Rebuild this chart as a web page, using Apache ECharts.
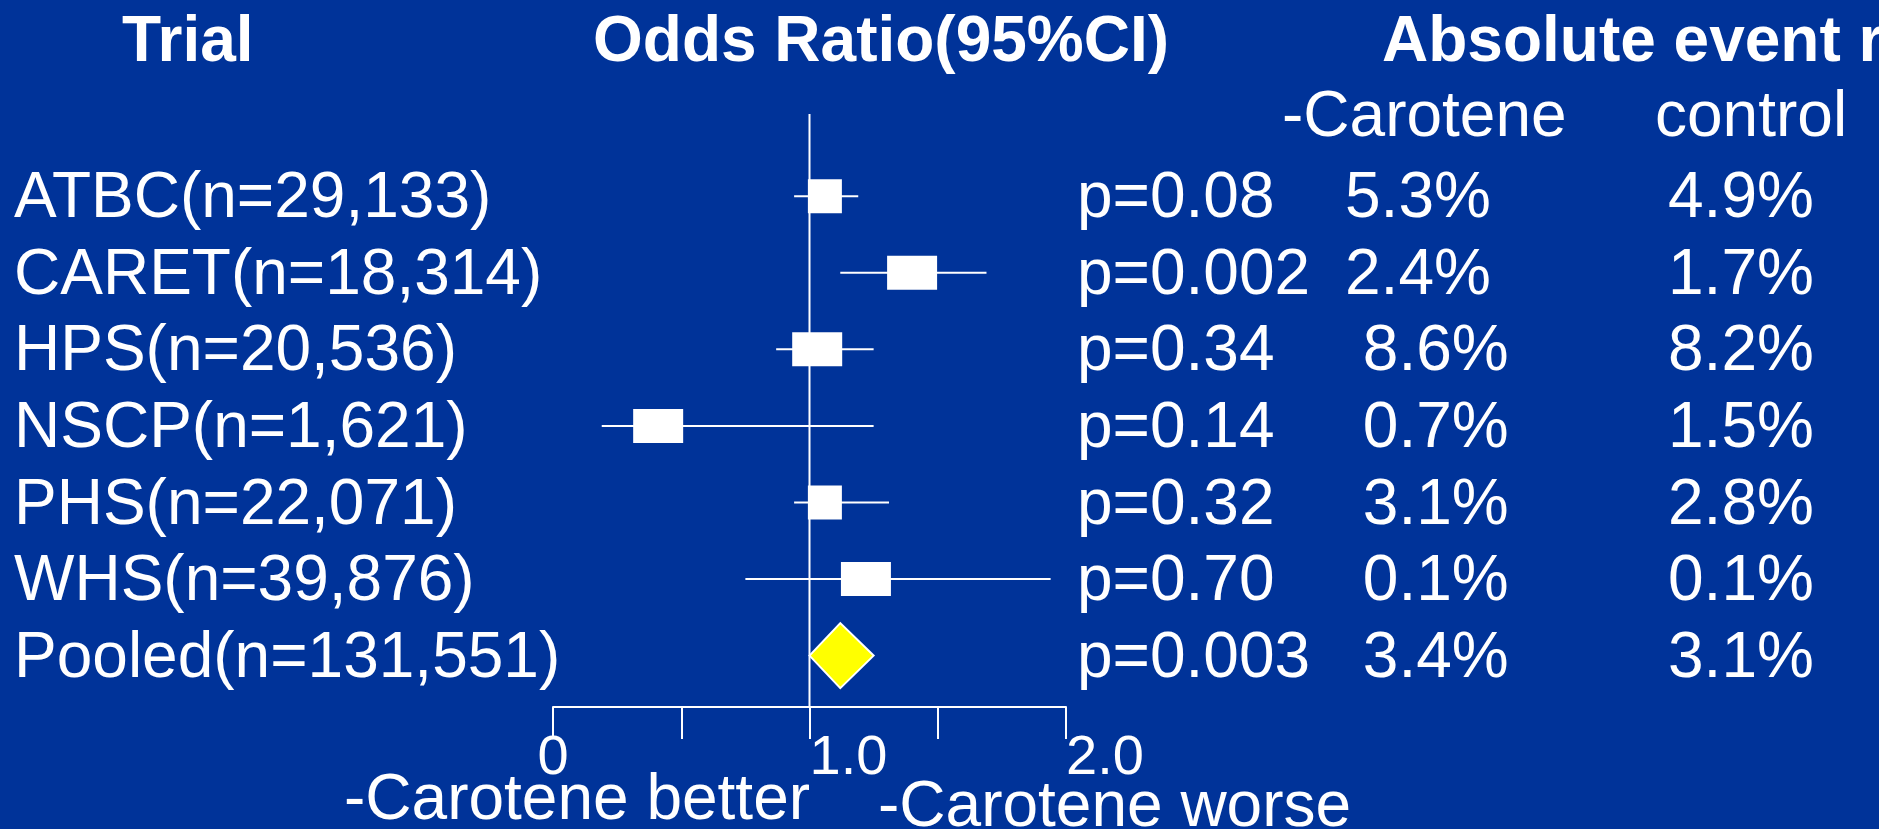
<!DOCTYPE html>
<html>
<head>
<meta charset="utf-8">
<script src="https://cdn.jsdelivr.net/npm/echarts@6/dist/echarts.min.js"></script>
<style>
html,body{margin:0;padding:0;background:#003399;overflow:hidden}
#chart{width:1879px;height:829px}
</style>
</head>
<body>
<div id="chart"></div>
<script>
// ---------- data ----------
const trials = ['ATBC(n=29,133)', 'CARET(n=18,314)', 'HPS(n=20,536)', 'NSCP(n=1,621)', 'PHS(n=22,071)', 'WHS(n=39,876)', 'Pooled(n=131,551)'];
const oddsRatio = [1.06, 1.40, 1.03, 0.41, 1.06, 1.22, 1.12];
const ciLow  = [0.94, 1.12, 0.87, 0.19, 0.94, 0.75, 1.00];
const ciHigh = [1.19, 1.69, 1.25, 1.25, 1.31, 1.94, 1.25];
const studyWeight = [1, 2, 2, 2, 1, 2];          // box size class: 1 = small, 2 = large
const pValues = ['p=0.08', 'p=0.002', 'p=0.34', 'p=0.14', 'p=0.32', 'p=0.70', 'p=0.003'];
const caroteneRate = ['5.3%', '2.4%', ' 8.6%', ' 0.7%', ' 3.1%', ' 0.1%', ' 3.4%'];
const controlRate = ['4.9%', '1.7%', '8.2%', '1.5%', '2.8%', '0.1%', '3.1%'];
const xTickValues = [0, 1, 2];
const xTickLabels = ['0', '1.0', '2.0'];
const refValue = 1;
const headers = ['Trial', 'Odds Ratio(95%CI)', 'Absolute event rate'];
const subHeaders = ['-Carotene', 'control'];
const directionLabels = ['-Carotene better', '-Carotene worse'];

// ---------- chart ----------
const FONT = '"Liberation Sans", Arial, Helvetica, sans-serif';
const WHITE = '#ffffff';
const TXT = 64;
const chart = echarts.init(document.getElementById('chart'), null, {renderer: 'canvas'});

const pooledIdx = trials.length - 1;
const boxData = [];
const ciData = [];
for (let i = 0; i < pooledIdx; i++) {
  boxData.push([oddsRatio[i], i, studyWeight[i]]);
  ciData.push([ciLow[i], ciHigh[i], i]);
}
const diamondData = [[ciLow[pooledIdx], ciHigh[pooledIdx], pooledIdx, oddsRatio[pooledIdx]]];

function textAxis(data, offset) {
  return {
    type: 'category', gridIndex: 1, position: 'left', offset: offset,
    inverse: true, data: data,
    axisLine: {show: false}, axisTick: {show: false}, splitLine: {show: false},
    axisLabel: {show: true, interval: 0, align: 'left', margin: 0, color: WHITE,
      fontSize: TXT, fontFamily: FONT, verticalAlign: 'middle'}
  };
}

function gText(text, x, y, size, bold) {
  return {
    type: 'text', x: x, y: y, silent: true,
    style: {text: text, fill: WHITE, fontSize: size, fontFamily: FONT,
      fontWeight: bold ? 'bold' : 'normal', align: 'left', verticalAlign: 'middle'}
  };
}

const option = {
  backgroundColor: '#003399',
  animation: false,
  grid: [
    {left: 553, right: 813, top: 114, bottom: 122, outerBoundsMode: 'none', containLabel: false},
    {left: 1870, right: 0, top: 161.3, height: 536, outerBoundsMode: 'none', containLabel: false}
  ],
  xAxis: [
    {
      type: 'value', gridIndex: 0, min: 0, max: 2, interval: 0.5,
      axisLine: {show: true, onZero: false, lineStyle: {color: WHITE, width: 2}},
      axisTick: {show: true, inside: false, length: 32, lineStyle: {color: WHITE, width: 2}},
      splitLine: {show: false},
      axisLabel: {
        show: true, color: WHITE, fontSize: 56, fontFamily: FONT, margin: 24,
        align: 'left', alignMinLabel: 'center', alignMaxLabel: 'left',
        formatter: function (v) {
          const k = xTickValues.indexOf(v);
          return k >= 0 ? xTickLabels[k] : '';
        }
      }
    },
    {type: 'value', gridIndex: 1, show: false}
  ],
  yAxis: [
    {type: 'value', gridIndex: 0, inverse: true, min: -1.0735, max: 6.671, show: false},
    textAxis(trials, 1856),
    textAxis(pValues, 793),
    textAxis(caroteneRate, 525),
    textAxis(controlRate, 202)
  ],
  series: [
    {
      type: 'custom', xAxisIndex: 0, yAxisIndex: 0, z: 1, silent: true,
      data: [[refValue]],
      encode: {x: 0},
      renderItem: function (params, api) {
        const cs = params.coordSys;
        const x = api.coord([api.value(0), 0])[0];
        return {type: 'line', shape: {x1: x, y1: cs.y, x2: x, y2: cs.y + cs.height},
          style: {stroke: WHITE, lineWidth: 2}};
      }
    },
    {
      type: 'custom', xAxisIndex: 0, yAxisIndex: 0, z: 2, silent: true,
      data: ciData,
      encode: {x: [0, 1], y: 2},
      renderItem: function (params, api) {
        const row = api.value(2);
        const p1 = api.coord([api.value(0), row]);
        const p2 = api.coord([api.value(1), row]);
        return {type: 'line', shape: {x1: p1[0], y1: p1[1], x2: p2[0], y2: p2[1]},
          style: {stroke: WHITE, lineWidth: 2}};
      }
    },
    {
      type: 'scatter', xAxisIndex: 0, yAxisIndex: 0, z: 3, silent: true,
      symbol: 'rect',
      symbolSize: function (v) { return [v[2] === 2 ? 50 : 34, 34]; },
      itemStyle: {color: WHITE, opacity: 1},
      data: boxData
    },
    {
      type: 'custom', xAxisIndex: 0, yAxisIndex: 0, z: 3, silent: true,
      data: diamondData,
      encode: {x: [0, 1], y: 2},
      renderItem: function (params, api) {
        const row = api.value(2);
        const l = api.coord([api.value(0), row]);
        const r = api.coord([api.value(1), row]);
        const m = api.coord([api.value(3), row]);
        const h = 32.5;
        return {type: 'polygon',
          shape: {points: [[l[0], l[1]], [m[0], m[1] - h], [r[0], r[1]], [m[0], m[1] + h]]},
          style: {fill: '#ffff00', stroke: WHITE, lineWidth: 2}};
      }
    }
  ],
  graphic: [
    gText(headers[0], 122, 43, TXT, true),
    gText(headers[1], 593, 43, TXT, true),
    gText(headers[2], 1382, 43, TXT, true),
    gText(subHeaders[0], 1282, 118, TXT, false),
    gText(subHeaders[1], 1655, 118, TXT, false),
    gText(directionLabels[0], 344, 801, TXT, false),
    gText(directionLabels[1], 878, 808, TXT, false)
  ]
};
chart.setOption(option);
</script>
</body>
</html>
